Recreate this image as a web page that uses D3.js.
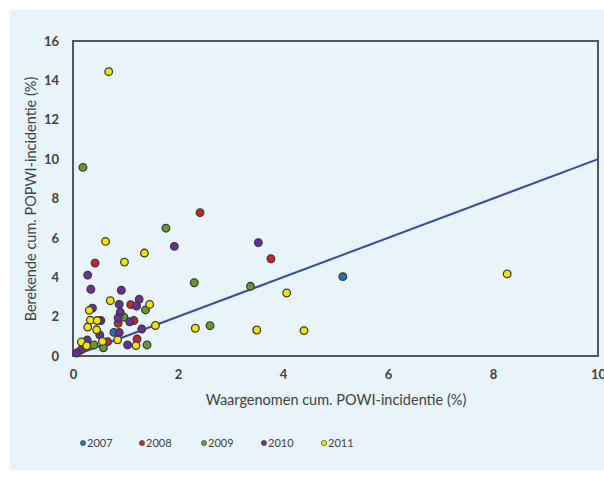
<!DOCTYPE html>
<html>
<head>
<meta charset="utf-8">
<script src="https://cdn.jsdelivr.net/npm/d3@7"></script>
<style>
  body { margin: 0; background: #fff; }
  text { font-family: Lato, "Open Sans", sans-serif; fill: #404040; }
</style>
</head>
<body>
<svg id="chart" width="604" height="481"></svg>
<script>
var years = ["2007", "2008", "2009", "2010", "2011"];
var colors = ["#2e6fb0", "#c0282d", "#6a9a2e", "#6a2e96", "#f2e600"];

var s2007 = [[5.14, 4.03], [0.78, 1.2]];
var s2008 = [[2.42, 7.28], [3.77, 4.94], [0.42, 4.72], [1.1, 2.61], [1.16, 1.8],
    [0.86, 1.66], [1.22, 0.86], [0.66, 0.73]];
var s2009 = [[0.19, 9.58], [1.77, 6.49], [2.31, 3.72], [3.38, 3.54], [2.61, 1.54],
    [1.38, 2.34], [0.97, 1.97], [1.41, 0.56], [0.58, 0.42], [0.40, 0.56]];
var s2010 = [[1.93, 5.57], [3.53, 5.76], [0.28, 4.11], [0.34, 3.39], [0.92, 3.34],
    [0.37, 2.43], [0.88, 2.62], [1.26, 2.88], [1.21, 2.54], [0.9, 2.22],
    [0.86, 1.93], [1.08, 1.74], [1.31, 1.37], [0.88, 1.19], [0.51, 1.07],
    [1.04, 0.56], [0.27, 0.81], [0.15, 0.3], [0.07, 0.15], [0.53, 1.8]];
var s2011 = [[0.68, 14.44], [0.62, 5.82], [0.98, 4.77], [1.36, 5.23], [0.71, 2.81],
    [0.31, 2.32], [0.33, 1.82], [0.46, 1.8], [0.28, 1.47], [0.45, 1.33],
    [0.16, 0.71], [0.26, 0.52], [0.56, 0.74], [0.85, 0.82], [1.2, 0.53],
    [1.46, 2.62], [1.57, 1.55], [2.33, 1.41], [3.5, 1.32], [4.07, 3.2],
    [4.4, 1.29], [8.27, 4.17]];
var series = [s2007, s2008, s2009, s2010, s2011];

var xTicks = [0, 2, 4, 6, 8, 10];
var yTicks = [0, 2, 4, 6, 8, 10, 12, 14, 16];
var fitLine = [[0, 0], [10, 10]];

var svg = d3.select("#chart");

// light blue panel
svg.append("rect")
    .attr("x", 10).attr("y", 10)
    .attr("width", 594).attr("height", 460)
    .attr("fill", "#e8f4fa");

var x = d3.scaleLinear().domain([0, 10]).range([73, 598]);
var y = d3.scaleLinear().domain([0, 16]).range([356, 41]);

// axes (labels only, the box is drawn below)
svg.append("g")
    .attr("transform", "translate(0," + 356 + ")")
    .call(d3.axisBottom(x).tickValues(xTicks).tickSize(0).tickPadding(14));
svg.append("g")
    .attr("transform", "translate(" + 73 + ",0)")
    .call(d3.axisLeft(y).tickValues(yTicks).tickSize(0).tickPadding(14));
svg.selectAll(".domain").remove();
svg.selectAll(".tick text")
    .style("font-family", "Lato, sans-serif")
    .style("font-size", "13px")
    .style("font-weight", "bold")
    .attr("fill", "#404040");

// plot box
svg.append("rect")
    .attr("x", x(0)).attr("y", y(16))
    .attr("width", x(10) - x(0)).attr("height", y(0) - y(16))
    .attr("fill", "none")
    .attr("stroke", "#555")
    .attr("stroke-width", 2);

// axis titles
svg.append("text")
    .attr("x", 336).attr("y", 405)
    .attr("text-anchor", "middle")
    .style("font-size", "14.5px")
    .text("Waargenomen cum. POWI-incidentie (%)");

svg.append("text")
    .attr("transform", "translate(36,199) rotate(-90)")
    .attr("text-anchor", "middle")
    .style("font-size", "14.5px")
    .text("Berekende cum. POPWI-incidentie (%)");

// regression line
svg.append("path")
    .datum(fitLine)
    .attr("d", d3.line().x(function(d) { return x(d[0]); }).y(function(d) { return y(d[1]); }))
    .attr("stroke", "#3c4a98")
    .attr("stroke-width", 2)
    .attr("fill", "none");

// points
series.forEach(function(data, i) {
    svg.append("g").selectAll("circle")
        .data(data)
        .enter().append("circle")
        .attr("cx", function(d) { return x(d[0]); })
        .attr("cy", function(d) { return y(d[1]); })
        .attr("r", 3.8)
        .attr("fill", colors[i])
        .attr("stroke", "#3a3a3a")
        .attr("stroke-width", 1.3);
});

// legend
var legendX = [83, 142, 204, 264, 324];
var legend = svg.append("g").selectAll("g")
    .data(years)
    .enter().append("g")
    .attr("transform", function(d, i) { return "translate(" + legendX[i] + ",443)"; });

legend.append("circle")
    .attr("r", 2.6)
    .attr("fill", function(d, i) { return colors[i]; })
    .attr("stroke", "#555")
    .attr("stroke-width", 0.8);

legend.append("text")
    .attr("x", 4)
    .attr("dy", "0.35em")
    .style("font-size", "11px")
    .text(function(d) { return d; });
</script>
</body>
</html>
